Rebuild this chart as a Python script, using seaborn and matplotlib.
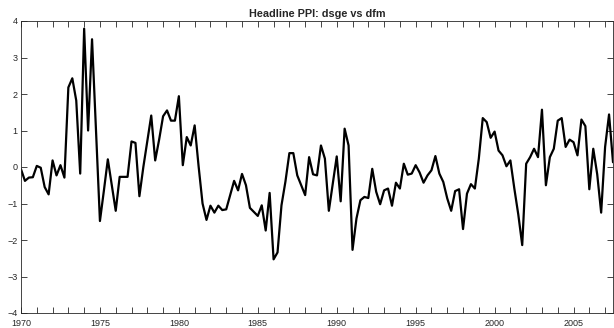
import numpy as np
import pandas as pd
import seaborn as sns
import matplotlib
matplotlib.use('Agg')
import matplotlib.pyplot as plt

# 风格设置
sns.set_style('ticks')
plt.rcParams['font.family'] = ['Liberation Sans', 'DejaVu Sans']

# 季度数据: 1970Q1 起
start_year = 1970
ppi_gap = [
    -0.06, -0.38, -0.29, -0.28, 0.03, -0.02, -0.55, -0.75, 0.18, -0.23,
    0.05, -0.29, 2.18, 2.43, 1.82, -0.18, 3.79, 1.00, 3.50, 1.00,
    -1.48, -0.65, 0.21, -0.50, -1.20, -0.27, -0.27, -0.27, 0.70, 0.66,
    -0.80, 0.00, 0.70, 1.41, 0.18, 0.75, 1.39, 1.55, 1.27, 1.27,
    1.94, 0.05, 0.82, 0.59, 1.14, 0.02, -1.00, -1.45, -1.06, -1.25,
    -1.06, -1.18, -1.16, -0.77, -0.38, -0.64, -0.19, -0.50, -1.12, -1.23,
    -1.34, -1.05, -1.74, -0.71, -2.53, -2.34, -1.05, -0.40, 0.38, 0.38,
    -0.23, -0.50, -0.77, 0.27, -0.20, -0.23, 0.59, 0.23, -1.20, -0.45,
    0.29, -0.94, 1.05, 0.59, -2.27, -1.41, -0.91, -0.82, -0.85, -0.05,
    -0.68, -1.02, -0.64, -0.59, -1.06, -0.43, -0.59, 0.09, -0.21, -0.18,
    0.05, -0.15, -0.43, -0.23, -0.09, 0.30, -0.18, -0.41, -0.86, -1.20,
    -0.66, -0.61, -1.70, -0.73, -0.47, -0.59, 0.23, 1.34, 1.23, 0.80,
    0.97, 0.45, 0.32, 0.02, 0.18, -0.59, -1.30, -2.14, 0.09, 0.27,
    0.50, 0.27, 1.57, -0.50, 0.27, 0.50, 1.27, 1.34, 0.55, 0.75,
    0.68, 0.32, 1.30, 1.12, -0.61, 0.50, -0.20, -1.25, 0.55, 1.44,
    0.13,
]
year_ticks = list(range(1970, 2008))
year_labels = [str(y) if y % 5 == 0 else '' for y in year_ticks]
y_ticks = [-4, -3, -2, -1, 0, 1, 2, 3, 4]

df = pd.DataFrame({'date': start_year + np.arange(len(ppi_gap)) / 4.0,
                   'value': ppi_gap})

fig = plt.figure(figsize=(6.14, 3.28), dpi=100)
ax = fig.add_axes([21 / 614, 15 / 328, 592 / 614, 292 / 328])
sns.lineplot(data=df, x='date', y='value', color='black', linewidth=1.6, ax=ax)

ax.set_xlim(1970, df['date'].iloc[-1])
ax.set_ylim(-4, 4)
ax.set_xticks(year_ticks)
ax.set_xticklabels(year_labels)
ax.set_yticks(y_ticks)
ax.set_xlabel('')
ax.set_ylabel('')
ax.set_title('Headline PPI: dsge vs dfm', fontsize=7.8, fontweight='bold', pad=3)

axis_col = '#262626'
for sp in ax.spines.values():
    sp.set_visible(True)
    sp.set_color(axis_col)
    sp.set_linewidth(0.6)
ax.tick_params(direction='in', length=4, width=0.6, color=axis_col,
               labelsize=6.5, labelcolor=axis_col,
               top=True, right=True)
ax.tick_params(axis='x', pad=4)
ax.tick_params(axis='y', pad=2.5)

fig.savefig('out.png', dpi=100)
